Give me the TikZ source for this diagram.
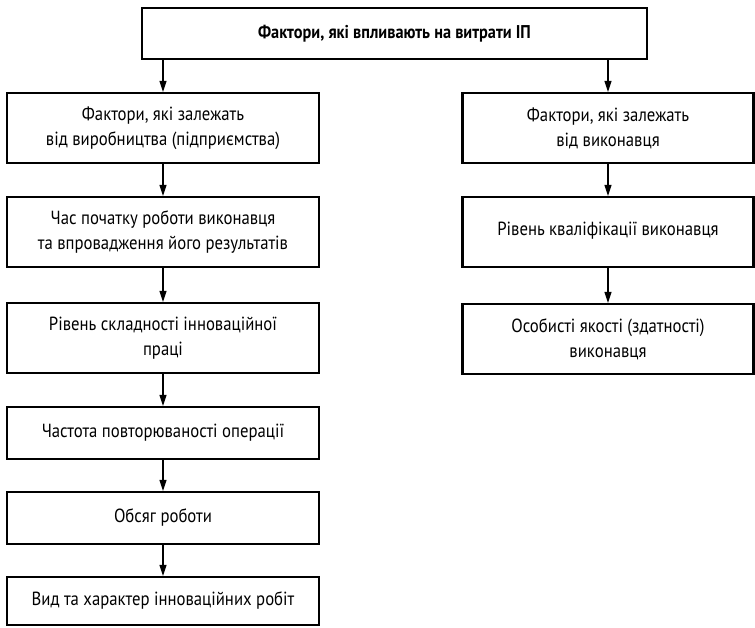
\documentclass[tikz,border=0pt]{standalone}
\usepackage{fontspec}
\setmainfont{PT Sans}[FakeStretch=0.88]
\usetikzlibrary{arrows.meta}

\tikzset{
  factor/.style={draw, line width=2.2pt, minimum width=312pt, minimum height=70pt,
    inner sep=0pt, align=center, font=\fontsize{19}{25}\selectfont},
  lowbox/.style={factor, minimum height=52pt},
  rightbox/.style={factor, minimum width=291pt},
  >={Triangle[length=11pt,width=7pt]}
}

\begin{document}
\begin{tikzpicture}[x=1pt, y=-1pt]
\useasboundingbox (0,0) rectangle (755,627);
\node [draw, line width=2.2pt, minimum width=505pt, minimum height=51pt, inner sep=0pt,
  font=\bfseries\fontsize{18.5}{22}\selectfont] (top) at (394.5,33.5) {Фактори, які впливають на витрати ІП};

% left column
\node [factor] (prod) at (163,128) {Фактори, які залежать\\від виробництва (підприємства)};
\node [factor] (start) at (163,232) {Час початку роботи виконавця\\та впровадження його результатів};
\node [factor] (hard) at (163,338) {Рівень складності інноваційної\\праці};
\node [lowbox] (freq) at (163,433) {Частота повторюваності операції};
\node [lowbox] (vol) at (163,518) {Обсяг роботи};
\node [factor, minimum height=48pt] (kind) at (163,601) {Вид та характер інноваційних робіт};

% right column
\node [rightbox] (exec) at (608,128) {Фактори, які залежать\\від виконавця};
\node [rightbox] (qual) at (608,232) {\raisebox{6pt}{Рівень кваліфікації виконавця}};
\node [rightbox] (pers) at (608,339) {Особисті якості (здатності)\\виконавця};

\draw [->, line width=1.3pt] (top.south -| prod) -- (prod.north);
\draw [->, line width=1.3pt] (top.south -| exec) -- (exec.north);
\foreach \a/\b in {prod/start, start/hard, hard/freq, freq/vol, vol/kind, exec/qual, qual/pers}
  \draw [->, line width=1.3pt] (\a.south) -- (\b.north);
\end{tikzpicture}
\end{document}
